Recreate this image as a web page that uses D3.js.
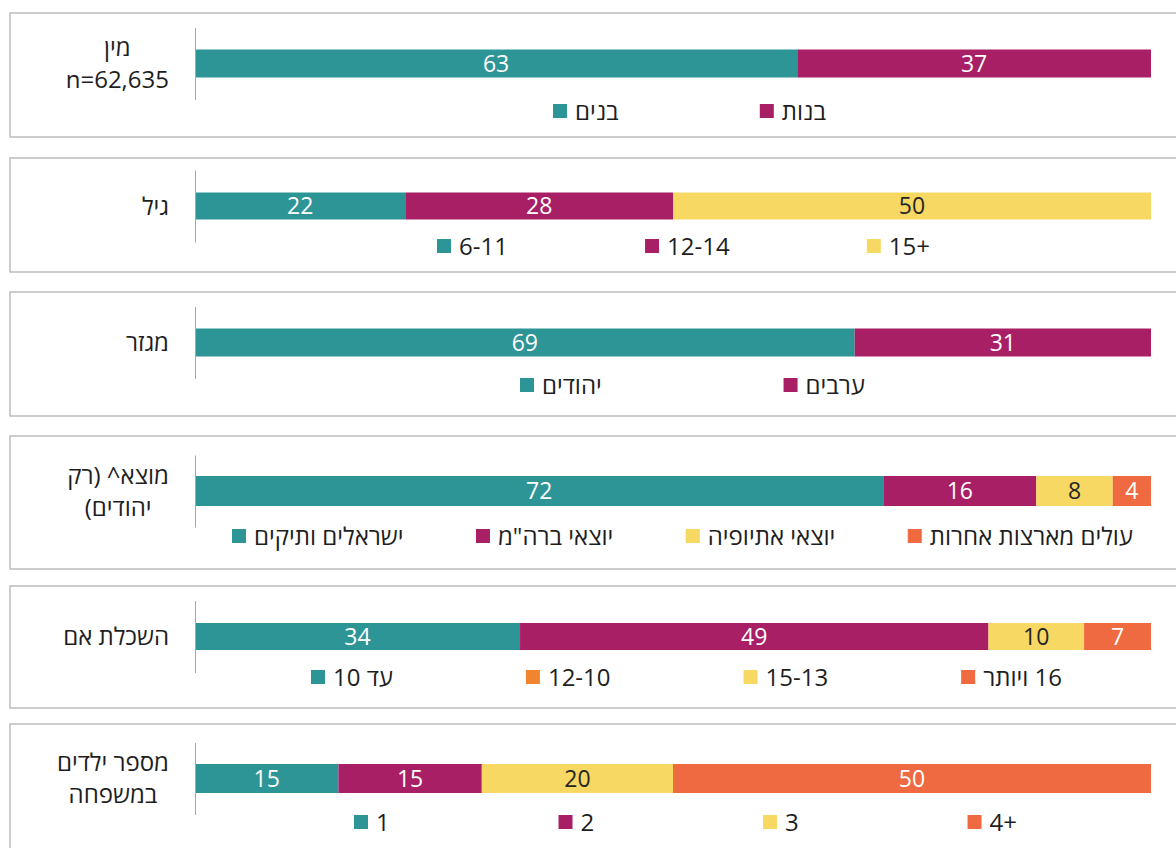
<!DOCTYPE html>
<html>
<head>
<meta charset="utf-8">
<script src="https://cdn.jsdelivr.net/npm/d3@7"></script>
<style>
  body { margin: 0; background: #fff; }
  svg text { font-family: "Open Sans", "DejaVu Sans", sans-serif; }
</style>
</head>
<body>
<div id="chart"></div>
<script>
/*
    Row labels (one entry per line) and series for each panel
*/
var rowLabels = [
    ["מין", "n=62,635"],
    ["גיל"],
    ["מגזר"],
    ["מוצא^ (רק", "יהודים)"],
    ["השכלת אם"],
    ["מספר ילדים", "במשפחה"]
];
var sexNames = ["בנים", "בנות"],
    sexValues = [63, 37];
var ageNames = ["6-11", "12-14", "15+"],
    ageValues = [22, 28, 50];
var sectorNames = ["יהודים", "ערבים"],
    sectorValues = [69, 31];
var originNames = ["ישראלים ותיקים", "יוצאי ברה\"מ", "יוצאי אתיופיה", "עולים מארצות אחרות"],
    originValues = [72, 16, 8, 4];
var eduNames = ["עד 10", "12-10", "15-13", "16 ויותר"],
    eduValues = [34, 49, 10, 7];
var kidsNames = ["1", "2", "3", "4+"],
    kidsValues = [15, 15, 20, 50];

var seriesNames = [sexNames, ageNames, sectorNames, originNames, eduNames, kidsNames];
var seriesValues = [sexValues, ageValues, sectorValues, originValues, eduValues, kidsValues];

/*
    Colours
*/
var teal = "#2e9597", magenta = "#a81f66", yellow = "#f6d862", coral = "#ef6a40", orange = "#f0842f";
var barColors = [teal, magenta, yellow, coral];
// the source legend for mother's education shows orange for the 2nd item
var legendColors = [barColors, barColors, barColors, barColors, [teal, orange, yellow, coral], barColors];

/*
    Layout of the panels
*/
var W = 1176, H = 848;
var panelTop = [13, 158, 292, 436, 586, 724],
    panelBottom = [137, 272, 416, 569, 708, 880],
    barMid = [63.5, 206, 342.5, 491, 636.5, 778.5],
    barHgt = [28, 27, 28, 30, 27, 29],
    legendMid = [111, 246, 385, 536, 677, 822],
    legendLeft = [553, 437, 520, 232, 311, 354],
    legendRight = [826, 930, 865, 1133, 1062, 1017],
    labelRight = 169,
    valueSize = 23,
    legendSize = 24,
    labelSize = 24,
    markSize = 14,
    markGap = 8;

var x = d3.scaleLinear().domain([0, 100]).range([195, 1151]);

var svg = d3.select("#chart").append("svg")
    .attr("width", W)
    .attr("height", H);

function isHebrew(s) { return /[\u0590-\u05FF]/.test(s); }

seriesValues.forEach(function (vals, p) {
    var g = svg.append("g");

    g.append("rect")
        .attr("x", 10)
        .attr("y", panelTop[p])
        .attr("width", W)
        .attr("height", panelBottom[p] - panelTop[p])
        .style("fill", "none")
        .style("stroke", "#bcbcbc")
        .style("stroke-width", 1.5);

    // stacked data
    var acc = 0;
    var segs = vals.map(function (v, i) {
        var s = { start: acc, end: acc + v, value: v, i: i };
        acc += v;
        return s;
    });

    var y = d3.scaleBand()
        .domain([p])
        .range([barMid[p] - 36, barMid[p] + 36])
        .paddingInner(0)
        .paddingOuter((72 - barHgt[p]) / 2 / barHgt[p]);

    g.selectAll("rect.seg")
        .data(segs)
        .enter()
        .append("rect")
        .attr("class", "seg")
        .attr("x", function (d) { return x(d.start); })
        .attr("width", function (d) { return x(d.end) - x(d.start); })
        .attr("y", y(p))
        .attr("height", y.bandwidth())
        .style("fill", function (d) { return barColors[d.i]; });

    g.selectAll("text.val")
        .data(segs)
        .enter()
        .append("text")
        .attr("class", "val")
        .attr("x", function (d) { return (x(d.start) + x(d.end)) / 2; })
        .attr("y", y(p) + y.bandwidth() / 2)
        .attr("dy", "0.36em")
        .attr("text-anchor", "middle")
        .style("font-size", valueSize + "px")
        .style("fill", function (d) { return d.i == 2 ? "#262626" : "#ffffff"; })
        .text(function (d) { return d.value; });

    // vertical category axis
    var axis = d3.axisLeft(y).tickSize(0).tickSizeOuter(0).tickFormat("");
    var ax = g.append("g")
        .attr("transform", "translate(" + x(0) + ",0)")
        .call(axis);
    ax.select(".domain").style("stroke", "#a6a6a6").style("stroke-width", 1);

    // row label: lines centred on each other, block right aligned
    var lines = rowLabels[p];
    var lbl = g.append("text")
        .attr("direction", "rtl")
        .attr("text-anchor", "middle")
        .style("font-size", labelSize + "px")
        .style("fill", "#1e1e1e");
    var lh = 32;
    var y0 = barMid[p] - (lines.length - 1) * lh / 2;
    var spans = lbl.selectAll("tspan")
        .data(lines)
        .enter()
        .append("tspan")
        .attr("y", function (d, i) { return y0 + i * lh; })
        .attr("dy", "0.36em")
        .text(function (d) { return d; });
    var maxW = 0;
    spans.each(function () { maxW = Math.max(maxW, this.getComputedTextLength()); });
    spans.attr("x", labelRight - maxW / 2);

    // legend: marker + text, spread with equal gaps between both ends
    var names = seriesNames[p];
    var items = g.append("g")
        .selectAll("g")
        .data(names)
        .enter()
        .append("g");
    items.append("rect")
        .attr("width", markSize)
        .attr("height", markSize)
        .attr("y", legendMid[p] - markSize / 2)
        .style("fill", function (d, i) { return legendColors[p][i]; });
    items.append("text")
        .attr("direction", function (d) { return isHebrew(d) ? "rtl" : "ltr"; })
        .attr("text-anchor", "middle")
        .attr("y", legendMid[p])
        .attr("dy", "0.36em")
        .style("font-size", legendSize + "px")
        .style("fill", "#1e1e1e")
        .text(function (d) { return d; });
    var widths = [];
    items.select("text").each(function () { widths.push(this.getComputedTextLength()); });
    var used = d3.sum(widths) + names.length * (markSize + markGap);
    var gap = (legendRight[p] - legendLeft[p] - used) / (names.length - 1);
    var cx = legendLeft[p];
    items.each(function (d, i) {
        var it = d3.select(this);
        it.select("rect").attr("x", cx);
        it.select("text").attr("x", cx + markSize + markGap + widths[i] / 2);
        cx += markSize + markGap + widths[i] + gap;
    });
});
</script>
</body>
</html>
